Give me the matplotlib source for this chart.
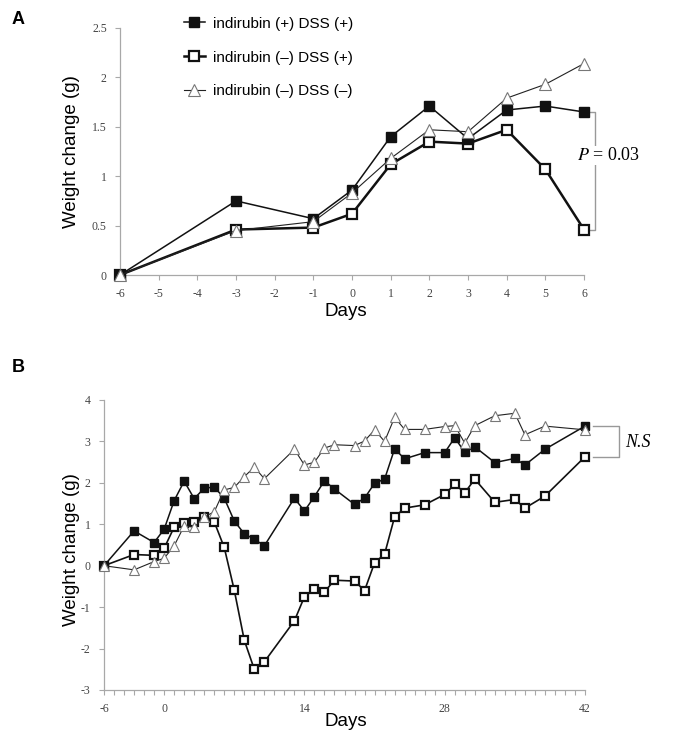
import numpy as np
import matplotlib
matplotlib.use("Agg")
import matplotlib.pyplot as plt
from matplotlib.ticker import MultipleLocator, FuncFormatter

plt.rcParams['font.family'] = ['Liberation Sans', 'DejaVu Sans']
plt.rcParams['axes.unicode_minus'] = False
plt.rcParams['mathtext.fontset'] = 'stix'

labels = ["indirubin (+) DSS (+)", "indirubin (\u2013) DSS (+)", "indirubin (\u2013) DSS (\u2013)"]

# panel A: short term
days_a = [-6, -3, -1, 0, 1, 2, 3, 4, 5, 6]
a_ind_dss = [0, 0.75, 0.57, 0.86, 1.40, 1.71, 1.38, 1.67, 1.71, 1.65]
a_dss = [0, 0.46, 0.48, 0.62, 1.12, 1.35, 1.33, 1.47, 1.07, 0.46]
a_ctrl = [0, 0.45, 0.54, 0.83, 1.18, 1.47, 1.45, 1.79, 1.93, 2.14]

# panel B: long term
days_b = [-6, -3, -1, 0, 1, 2, 3, 4, 5, 6, 7, 8, 9, 10, 13, 14, 15, 16, 17,
          19, 20, 21, 22, 23, 24, 26, 28, 29, 30, 31, 33, 35, 36, 38, 42]
b_ind_dss = [0, 0.84, 0.56, 0.88, 1.57, 2.04, 1.62, 1.87, 1.90, 1.63, 1.08,
             0.77, 0.64, 0.48, 1.63, 1.32, 1.67, 2.05, 1.85, 1.48, 1.63, 1.99,
             2.09, 2.82, 2.58, 2.73, 2.73, 3.09, 2.74, 2.87, 2.49, 2.59, 2.43,
             2.81, 3.37]
b_dss = [0, 0.27, 0.25, 0.42, 0.93, 1.04, 1.05, 1.17, 1.06, 0.44, -0.59,
         -1.80, -2.50, -2.32, -1.33, -0.75, -0.56, -0.63, -0.35, -0.37, -0.60,
         0.07, 0.28, 1.18, 1.39, 1.47, 1.72, 1.97, 1.76, 2.09, 1.53, 1.60,
         1.39, 1.68, 2.63]
b_ctrl = [0, -0.10, 0.10, 0.18, 0.48, 0.96, 0.93, 1.18, 1.30, 1.83, 1.89,
          2.15, 2.38, 2.10, 2.81, 2.43, 2.50, 2.84, 2.92, 2.90, 3.01, 3.28,
          3.00, 3.58, 3.29, 3.29, 3.36, 3.38, 2.96, 3.38, 3.62, 3.68, 3.16,
          3.37, 3.28]

W, H = 680, 740
fig = plt.figure(figsize=(W / 100, H / 100), dpi=100)

axA = fig.add_axes([120 / W, 1 - 275 / H, (584 - 120) / W, (275 - 28) / H])
axB = fig.add_axes([104 / W, 1 - 690 / H, (585 - 104) / W, (690 - 400) / H])

spine_col = '#a8a8a8'
tick_font = dict(family='Liberation Serif', size=8.5, color='#444444')


def style_axes(ax):
    for s in ['top', 'right']:
        ax.spines[s].set_visible(False)
    for s in ['left', 'bottom']:
        ax.spines[s].set_color(spine_col)
        ax.spines[s].set_linewidth(0.9)
    ax.tick_params(which='both', direction='out', color=spine_col, length=3.5,
                   width=0.8, pad=6)
    for lab in ax.get_xticklabels() + ax.get_yticklabels():
        lab.set_fontfamily(tick_font['family'])
        lab.set_fontsize(tick_font['size'])
        lab.set_color(tick_font['color'])


def draw_series(ax, x, y_ind, y_dss, y_ctrl, ms, lw_dss):
    h1, = ax.plot(x, y_ind, color='#111111', lw=1.1, marker='s', ms=ms,
                  mfc='#111111', mec='#111111', clip_on=False, zorder=4)
    h2, = ax.plot(x, y_dss, color='#111111', lw=lw_dss, marker='s', ms=ms,
                  mfc='white', mec='#111111', mew=1.6, clip_on=False, zorder=3)
    h3, = ax.plot(x, y_ctrl, color='#222222', lw=0.8, marker='^', ms=ms + 1,
                  mfc='white', mec='#777777', mew=0.8, clip_on=False, zorder=5)
    return h1, h2, h3


hA = draw_series(axA, days_a, a_ind_dss, a_dss, a_ctrl, 7, 1.8)
axA.set_xlim(-6, 6)
axA.set_ylim(0, 2.5)
axA.xaxis.set_major_locator(MultipleLocator(1))
axA.yaxis.set_major_locator(MultipleLocator(0.5))
axA.yaxis.set_major_formatter(FuncFormatter(lambda v, p: f"{v:g}"))
style_axes(axA)

draw_series(axB, days_b, b_ind_dss, b_dss, b_ctrl, 6, 1.2)
axB.set_xlim(-6, 42)
axB.set_ylim(-3, 4)
axB.set_xticks([-6, 0, 14, 28, 42])
axB.xaxis.set_minor_locator(MultipleLocator(1))
axB.yaxis.set_major_locator(MultipleLocator(1))
style_axes(axB)

# significance brackets
br = dict(color='#999999', lw=1.0, clip_on=False)
axA.plot([6.08, 6.28, 6.28, 6.08], [a_ind_dss[-1], a_ind_dss[-1], a_dss[-1], a_dss[-1]], **br)
axA.text(6.62, 1.21, r"$P$ = 0.03", family='Liberation Serif', size=13,
         ha='center', va='center', bbox=dict(fc='white', ec='none', pad=1))
axB.plot([42.8, 45.4, 45.4, 42.8], [b_ind_dss[-1], b_ind_dss[-1], b_dss[-1], b_dss[-1]], **br)
axB.text(46.0, 2.98, "N.S", family='Liberation Serif', style='italic', size=13,
         ha='left', va='center')

fig.legend(hA, labels, loc='upper left', bbox_to_anchor=(170 / W, 1 - 3 / H),
           frameon=False, fontsize=11, labelspacing=1.3, handlelength=1.4,
           handletextpad=0.5)

# axis titles and panel letters
for yc in [152, 550]:
    fig.text(72 / W, 1 - yc / H, "Weight change (g)", rotation=90, size=13.5,
             ha='center', va='center')
for yc in [311, 722]:
    fig.text(346 / W, 1 - yc / H, "Days", size=13.5, ha='center', va='center')
fig.text(12 / W, 1 - 19 / H, "A", size=13, weight='bold', va='center')
fig.text(12 / W, 1 - 368 / H, "B", size=13, weight='bold', va='center')

fig.savefig("out.png", dpi=100)
